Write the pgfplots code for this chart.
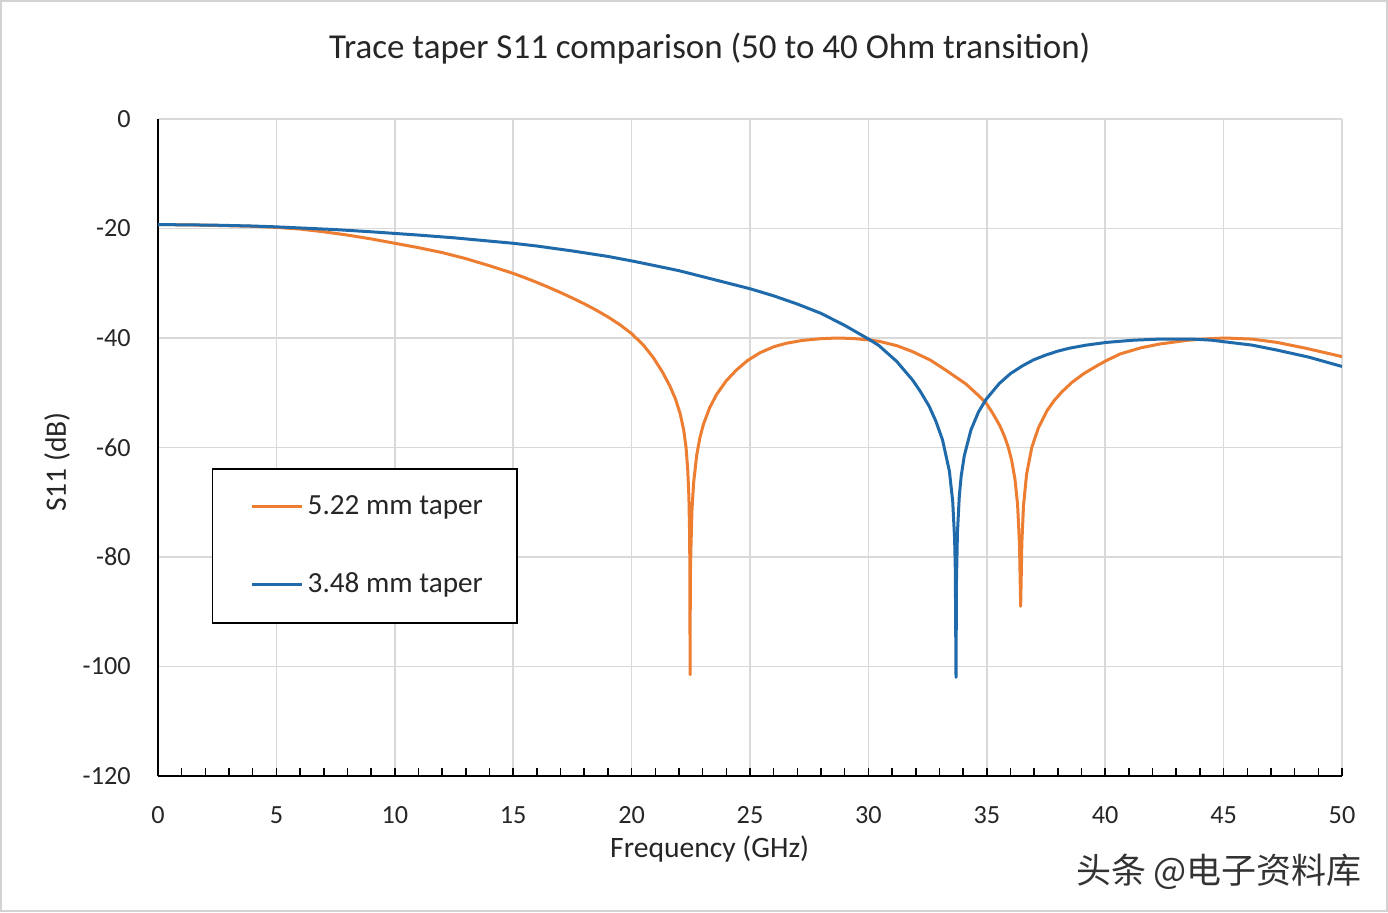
\documentclass[border=0pt]{standalone}
\usepackage{pgfplots}
\pgfplotsset{compat=1.18}
\usepackage{fontspec}
\setmainfont{Carlito}
\newfontfamily\cjk{Noto Sans CJK SC}
\definecolor{xlorange}{RGB}{237,125,49}
\definecolor{xlblue}{RGB}{31,106,170}
\definecolor{gridgray}{RGB}{217,217,217}
\begin{document}
\begin{tikzpicture}
\useasboundingbox (0,0) rectangle (694pt,456pt);
\draw[gray!35, line width=0.75pt] (0.5pt,0.5pt) rectangle (693.5pt,455.5pt);
\begin{axis}[
  at={(79pt,68pt)}, anchor=south west,
  scale only axis, width=592pt, height=328.5pt,
  xmin=0, xmax=50, ymin=-120, ymax=0,
  axis x line=bottom, axis y line=left,
  axis line style={-, black, line width=1pt},
  xtick={0,5,...,50}, ytick={-120,-100,...,0},
  minor x tick num=4,
  tick align=inside,
  major tick length=4pt, minor tick length=4pt,
  x tick style={black, line width=0.75pt},
  minor x tick style={black, line width=0.75pt},
  ytick style={draw=none},
  grid=major,
  major grid style={gridgray, line width=0.75pt},
  /pgf/number format/assume math mode=true,
  ticklabel style={font=\fontsize{13.1}{15}\selectfont, text=black!85},
  yticklabel style={anchor=east, inner sep=0pt, xshift=-13.5pt},
  xticklabel style={anchor=north, inner sep=0pt, yshift=-15pt},
  title={Trace taper S11 comparison (50 to 40 Ohm transition)},
  title style={at={(0.466,1.0897)}, anchor=center, font=\fontsize{17.5}{20}\selectfont, text=black!85},
  xlabel={Frequency (GHz)},
  xlabel style={at={(0.466,-0.111)}, anchor=center, font=\fontsize{14.8}{17}\selectfont, text=black!85},
  ylabel={S11 (dB)},
  ylabel style={at={(-0.0853,0.478)}, anchor=center, rotate=0, font=\fontsize{14.8}{17}\selectfont, text=black!85},
  legend cell align=left,
  legend image code/.code={\path (0pt,0pt); \draw[#1] (4pt,0pt) -- (29pt,0pt);},
  legend style={at={(0.0456,0.4688)}, anchor=north west, draw=black, line width=0.75pt,
    font=\fontsize{14.6}{17}\selectfont, text=black!85,
    inner xsep=15pt, inner ysep=11.4pt, row sep=23.75pt, nodes={inner sep=2pt}},
]
\addplot[xlorange, line width=1.5pt, line join=round] coordinates {
(0,-19.3) (1,-19.32) (2,-19.4) (3,-19.5) (4,-19.6) (5,-19.8) (6,-20.1) (7,-20.6) (8,-21.2) (9,-21.9) (10,-22.7) (11,-23.5) (12,-24.4) (13,-25.5) (14,-26.8) (15,-28.2) (15.5,-29.0) (16,-29.85) (16.5,-30.75) (17,-31.7) (17.5,-32.7) (18,-33.75) (18.5,-34.9) (19.0,-36.15) (19.5,-37.55) (20.0,-39.2) (20.5,-41.3) (20.92,-43.6) (21.3,-46.2) (21.62,-48.8) (21.85,-51.1) (22.05,-53.8) (22.2,-56.8) (22.3,-60.0) (22.37,-64.0) (22.42,-69) (22.45,-76) (22.46,-82) (22.47,-101.5) (22.48,-84) (22.5,-79.3) (22.55,-71.4) (22.62,-66.4) (22.75,-61.4) (22.88,-58.3) (23.03,-55.8) (23.3,-52.7) (23.59,-50.3) (24.0,-47.8) (24.44,-45.8) (24.9,-44.1) (25.42,-42.7) (26.0,-41.6) (26.55,-40.95) (27.2,-40.45) (28.0,-40.12) (28.7,-40.0) (29.4,-40.1) (30.0,-40.35) (30.45,-40.6) (31.2,-41.4) (31.87,-42.5) (32.6,-44.0) (33.28,-45.9) (34.12,-48.4) (34.6,-50.3) (34.97,-51.9) (35.23,-53.6) (35.39,-54.8) (35.56,-56.1) (35.75,-58.0) (35.91,-60.0) (36.05,-62.35) (36.19,-65.8) (36.3,-70.4) (36.38,-77.6) (36.41,-84.4) (36.43,-89) (36.45,-84.6) (36.48,-77.5) (36.55,-70.6) (36.68,-64.9) (36.9,-60.0) (37.18,-56.4) (37.54,-53.3) (37.85,-51.4) (38.18,-49.8) (38.6,-48.1) (39.1,-46.5) (39.6,-45.2) (40.06,-44.1) (40.64,-42.9) (41.5,-41.8) (42.3,-41.1) (43.5,-40.4) (44.3,-40.15) (45.06,-40.0) (46.2,-40.2) (47.25,-40.8) (48.5,-41.9) (50,-43.4)
};
\addlegendentry{5.22 mm taper}
\addplot[xlblue, line width=1.5pt, line join=round] coordinates {
(0,-19.3) (1,-19.32) (2.5,-19.4) (4,-19.55) (5,-19.7) (6,-19.9) (7.5,-20.2) (9,-20.6) (10,-20.9) (11,-21.2) (12.5,-21.7) (14,-22.3) (15,-22.7) (16,-23.2) (17.5,-24.1) (19,-25.1) (20.1,-26.0) (21,-26.8) (22,-27.7) (23,-28.8) (24,-29.9) (25,-31.0) (26,-32.3) (27,-33.8) (28,-35.5) (29,-37.7) (30.07,-40.35) (30.45,-41.4) (31.2,-44.3) (31.87,-47.7) (32.2,-49.8) (32.57,-52.5) (32.85,-55.2) (33.13,-58.6) (33.42,-64.3) (33.56,-69.8) (33.64,-76.6) (33.67,-82.2) (33.7,-102) (33.72,-84.4) (33.76,-75.6) (33.84,-68.8) (33.92,-65.2) (34.05,-61.5) (34.33,-56.8) (34.65,-53.5) (34.97,-51.2) (35.53,-48.3) (36.0,-46.5) (36.5,-45.1) (36.97,-44.0) (37.5,-43.1) (38.0,-42.4) (38.5,-41.85) (39.2,-41.3) (40.06,-40.8) (41.2,-40.4) (42.3,-40.2) (43.7,-40.2) (44.5,-40.4) (45.06,-40.7) (46.2,-41.3) (47.25,-42.2) (48.6,-43.5) (50,-45.2)
};
\addlegendentry{3.48 mm taper}
\end{axis}
\node[font=\cjk\fontsize{17.5}{20}\selectfont, text=black!80] at (609.5pt,20pt) {头条 @电子资料库};
\end{tikzpicture}
\end{document}
